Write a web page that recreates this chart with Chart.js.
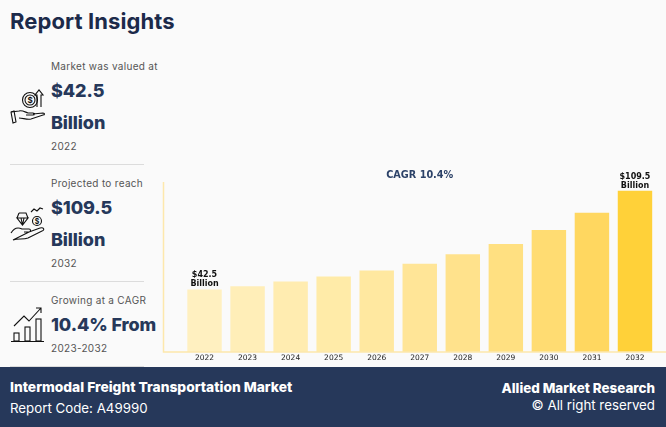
<!DOCTYPE html>
<html>
<head>
<meta charset="utf-8">
<script src="https://cdn.jsdelivr.net/npm/chart.js@4/dist/chart.umd.min.js"></script>
<style>
  html, body { margin: 0; padding: 0; background: #fafafa; }
  #page { position: relative; width: 666px; height: 427px; overflow: hidden; background: #fafafa; font-family: Inter, sans-serif; }
  .t { position: absolute; white-space: nowrap; line-height: 1; }
  .head { left: 10px; top: 10px; font-size: 22px; font-weight: 700; color: #1c2a4a; letter-spacing: 0.1px; }
  .small { left: 51px; font-size: 10px; color: #555; letter-spacing: 0.3px; }
  .big { left: 51px; font-size: 18px; font-weight: 800; color: #26385a; letter-spacing: -0.1px; }
  .rule { position: absolute; left: 10px; width: 134px; height: 1px; background: #dcdcdc; }
  svg { position: absolute; fill: none; stroke: #111; stroke-width: 1.1; }
  svg text { fill: #111; stroke: none; font-size: 8px; font-weight: 700; text-anchor: middle; }
  #wrap { position: absolute; left: 160px; top: 160px; width: 506px; height: 205px; }
  #footer { position: absolute; left: 0; top: 367px; width: 666px; height: 60px; background: #26385a; }
  .f { color: #fff; font-size: 13.3px; }
  .fb { font-weight: 800; font-size: 13.8px; }
  .fr { font-size: 13.4px; }
</style>
</head>
<body>
<div id="page">
  <div class="t head">Report Insights</div>

  <svg style="left:10px;top:87px" width="36" height="37" viewBox="0 0 36 37">
    <circle cx="20" cy="13" r="7.5"/><circle cx="20" cy="13" r="5"/>
    <text x="20" y="16">$</text>
    <path d="M27 20V8h-2l4-5 4 5h-2v12"/>
    <path d="M1 25l8-1c3-1 6 1 9 2h5c2 0 2 2 0 2h-7M23 27l10-1c2 0 2 2 0 2l-12 4c-4 1-8-1-12-1"/>
    <path d="M1 25l2 11 3-1-2-11z"/>
  </svg>
  <div class="t small" style="top:61px">Market was valued at</div>
  <div class="t big" style="top:82px">$42.5</div>
  <div class="t big" style="top:114px">Billion</div>
  <div class="t small" style="top:141px">2022</div>
  <div class="rule" style="top:164px"></div>

  <svg style="left:10px;top:205px" width="36" height="38" viewBox="0 0 36 38">
    <path d="M7 13h11l-5.500 7zM9 8h7l2 5M9 8l-2 5M11 13l1.500 7 1.500-7"/>
    <circle cx="27" cy="16" r="4.500"/>
    <text x="27" y="19" style="font-size:7px">$</text>
    <path d="M21 7l3-3 3 2 3-3 3 1"/>
    <path d="M1 28c3-5 7-6 11-4h7c2 0 2 3 0 3h-5M19 27l11-4c4-1 5 2 2 3l-14 7c-5 2-10 0-15 2z"/>
  </svg>
  <div class="t small" style="top:178px">Projected to reach</div>
  <div class="t big" style="top:199px">$109.5</div>
  <div class="t big" style="top:231px">Billion</div>
  <div class="t small" style="top:258px">2032</div>
  <div class="rule" style="top:281px"></div>

  <svg style="left:11px;top:305px" width="34" height="38" viewBox="0 0 34 38">
    <path d="M0 36.500h33"/>
    <rect x="3" y="28" width="5" height="8"/><rect x="14" y="22" width="5" height="14"/><rect x="25" y="14" width="5" height="22"/>
    <path d="M3 21L13 11l5 5L30 3M25 3h5v5"/>
  </svg>
  <div class="t small" style="top:295px">Growing at a CAGR</div>
  <div class="t big" style="top:316px">10.4% From</div>
  <div class="t small" style="top:343px">2023-2032</div>
  <div class="rule" style="top:366px"></div>

  <div id="wrap"><canvas id="grafico" width="506" height="205"></canvas></div>

  <div id="footer">
    <div class="t f fb" style="left:10px;top:14px">Intermodal Freight Transportation Market</div>
    <div class="t f" style="left:10px;top:35px">Report Code: A49990</div>
    <div class="t f fb fr" style="right:11px;top:15px">Allied Market Research</div>
    <div class="t f" style="right:11px;top:32px">© All right reserved</div>
  </div>
</div>

<script>
const anos = ['2022', '2023', '2024', '2025', '2026', '2027', '2028', '2029', '2030', '2031', '2032'];
const valores = [42.5, 44.7, 47.8, 51.2, 55.3, 60, 66.4, 73.4, 82.9, 94.5, 109.5];
const cores = ['#fff0c0', '#ffeeb8', '#ffecb0', '#ffeba8', '#ffe8a0', '#ffe597', '#ffe28c', '#ffe081', '#ffdc72', '#ffd760', '#ffd139'];
const rotulos = { 0: ['$42.5', 'Billion'], 10: ['$109.5', 'Billion'] };

// linhas dos eixos passam da area dos dados, por isso sao desenhadas aqui
const eixos = {
  id: 'eixos',
  afterDatasetsDraw(chart) {
    const ctx = chart.ctx;
    const base = chart.scales.y.getPixelForValue(0);
    ctx.save();
    ctx.strokeStyle = '#fde8ac';
    ctx.lineWidth = 1.5;
    ctx.beginPath();
    ctx.moveTo(3.5, 22);
    ctx.lineTo(3.5, base);
    ctx.lineTo(506, base);
    ctx.stroke();
    ctx.restore();
  }
};

const rotulosBarras = {
  id: 'rotulosBarras',
  afterDatasetsDraw(chart) {
    const ctx = chart.ctx;
    const barras = chart.getDatasetMeta(0).data;
    ctx.save();
    ctx.font = 'bold 8px "DejaVu Sans"';
    ctx.fillStyle = '#111';
    ctx.textAlign = 'center';
    ctx.textBaseline = 'middle';
    Object.keys(rotulos).forEach(i => {
      const b = barras[i];
      ctx.fillText(rotulos[i][0], b.x, b.y - 14);
      ctx.fillText(rotulos[i][1], b.x, b.y - 5);
    });
    ctx.restore();
  }
};

new Chart(document.getElementById('grafico').getContext('2d'), {
  type: 'bar',
  data: {
    labels: anos,
    datasets: [{
      label: 'Market',
      data: valores,
      backgroundColor: cores,
      barPercentage: 0.8,
      categoryPercentage: 1
    }]
  },
  options: {
    responsive: false,
    animation: false,
    layout: { padding: { left: 23, right: 9.5, top: 0, bottom: 0 } },
    plugins: {
      legend: { display: false },
      tooltip: { enabled: false },
      title: {
        display: true,
        text: 'CAGR 10.4%',
        color: '#2c4268',
        font: { family: '"DejaVu Sans"', size: 9.7, weight: 'bold' },
        padding: { top: 10, bottom: 1 }
      }
    },
    scales: {
      x: {
        grid: { display: false, drawTicks: false },
        border: { display: false },
        ticks: { color: '#222', font: { family: '"DejaVu Sans"', size: 7.5 }, padding: 2, maxRotation: 0 }
      },
      y: { display: false, min: 0, max: 115 }
    }
  },
  plugins: [eixos, rotulosBarras]
});
</script>
</body>
</html>
